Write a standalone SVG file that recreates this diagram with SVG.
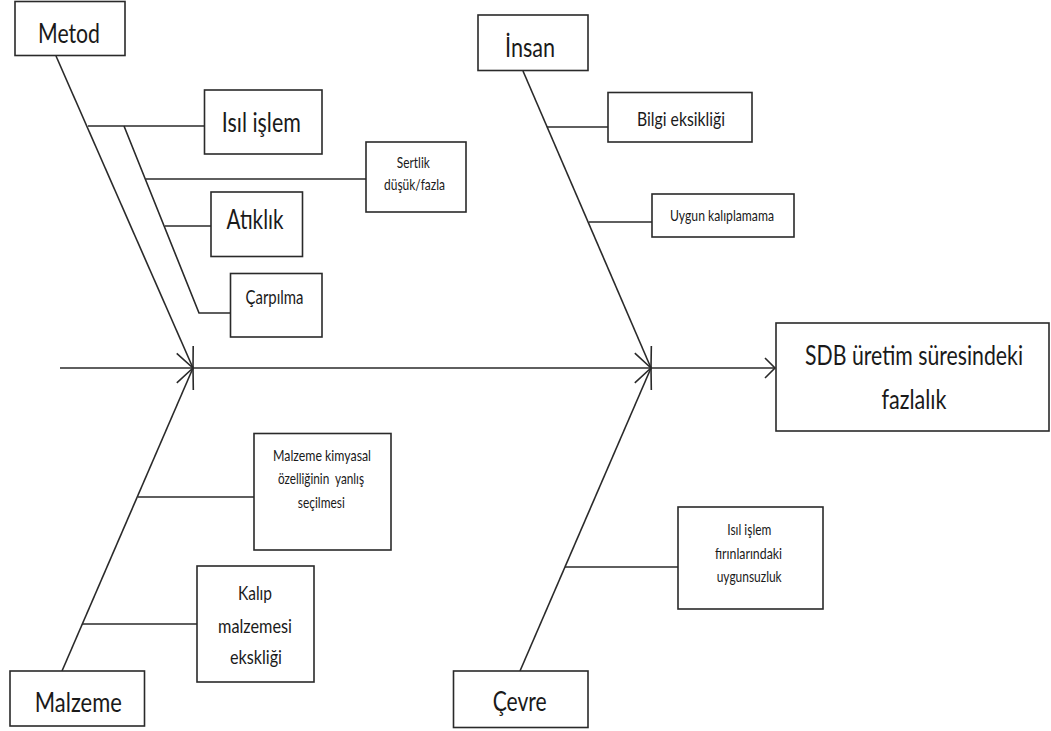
<svg xmlns="http://www.w3.org/2000/svg" width="1051" height="731" viewBox="0 0 1051 731">
<defs>
<style>
.box{fill:#fff;stroke:#2a2a2a;stroke-width:1.6}
.ln{fill:none;stroke:#2a2a2a;stroke-width:1.6}
text{font-family:Lato,"Open Sans","Liberation Sans",sans-serif;fill:#1a1a1a;text-anchor:middle}
.xl{font-size:27px}
.l{font-size:26px}
.m{font-size:19px}
.s{font-size:15px}
</style>
<marker id="spine" markerUnits="userSpaceOnUse" orient="auto" markerWidth="1" markerHeight="1" overflow="visible">
<path d="M-20,-9 L0,0 L-20,9" fill="none" stroke="#2a2a2a" stroke-width="1.6"/>
</marker>
<marker id="head" markerUnits="userSpaceOnUse" orient="auto" markerWidth="1" markerHeight="1" overflow="visible">
<path d="M-10,-10 L0,0 L-10,10" fill="none" stroke="#2a2a2a" stroke-width="1.6"/>
</marker>
</defs>
<rect width="1051" height="731" fill="#fff"/>
<g id="connectors">
<path class="ln" d="M60,368 H775" marker-end="url(#head)"/>
<path class="ln" d="M56,56 L193,368" marker-end="url(#spine)"/>
<path class="ln" d="M62,671 L193,368" marker-end="url(#spine)"/>
<path class="ln" d="M523,71 L651,368" marker-end="url(#spine)"/>
<path class="ln" d="M520,671 L651,368" marker-end="url(#spine)"/>
<path class="ln" d="M88,126 H204.5"/>
<path class="ln" d="M124,126 L199,313 H230.5"/>
<path class="ln" d="M146,179 H366"/>
<path class="ln" d="M165,226 H211"/>
<path class="ln" d="M547,127 H608"/>
<path class="ln" d="M589,222 H652"/>
<path class="ln" d="M138,497 H254"/>
<path class="ln" d="M82,624 H197"/>
<path class="ln" d="M565,567 H678"/>
</g>
<g id="metod">
<rect class="box" x="15" y="1.5" width="110" height="54"/>
<text class="xl" x="69" y="43" textLength="62" lengthAdjust="spacingAndGlyphs">Metod</text>
</g>
<g id="isil-islem">
<rect class="box" x="204.5" y="90" width="117.5" height="64"/>
<text class="xl" x="261.3" y="132" textLength="79" lengthAdjust="spacingAndGlyphs">Isıl işlem</text>
</g>
<g id="sertlik">
<rect class="box" x="366" y="142" width="100" height="70"/>
<text class="s" x="413.3" y="167.7" textLength="33" lengthAdjust="spacingAndGlyphs">Sertlik</text>
<text class="s" x="414.5" y="190" textLength="61" lengthAdjust="spacingAndGlyphs">düşük/fazla</text>
</g>
<g id="atiklik">
<rect class="box" x="211" y="192" width="91.5" height="64.5"/>
<text class="xl" x="255" y="229.3" textLength="57" lengthAdjust="spacingAndGlyphs">Atıklık</text>
</g>
<g id="carpilma">
<rect class="box" x="230.5" y="273.5" width="91.5" height="63.5"/>
<text class="m" x="274.5" y="304" textLength="58" lengthAdjust="spacingAndGlyphs">Çarpılma</text>
</g>
<g id="insan">
<rect class="box" x="478" y="15" width="110" height="55.5"/>
<text class="xl" x="530" y="57" textLength="50" lengthAdjust="spacingAndGlyphs">İnsan</text>
</g>
<g id="bilgi">
<rect class="box" x="608" y="92.5" width="144" height="49.5"/>
<text class="m" x="681" y="125.7" textLength="88" lengthAdjust="spacingAndGlyphs">Bilgi eksikliği</text>
</g>
<g id="uygun">
<rect class="box" x="652" y="194" width="142" height="43"/>
<text class="s" x="722" y="221" textLength="104" lengthAdjust="spacingAndGlyphs">Uygun kalıplamama</text>
</g>
<g id="sdb">
<rect class="box" x="776" y="323" width="273" height="108"/>
<text class="l" x="914" y="365" textLength="218" lengthAdjust="spacingAndGlyphs">SDB üretim süresindeki</text>
<text class="l" x="914" y="409" textLength="65" lengthAdjust="spacingAndGlyphs">fazlalık</text>
</g>
<g id="malzeme">
<rect class="box" x="10" y="671" width="134.5" height="55"/>
<text class="l" x="78.3" y="712" textLength="87" lengthAdjust="spacingAndGlyphs">Malzeme</text>
</g>
<g id="kimyasal">
<rect class="box" x="254" y="433.5" width="137" height="116.5"/>
<text class="s" x="322" y="461" textLength="98" lengthAdjust="spacingAndGlyphs">Malzeme kimyasal</text>
<text class="s" x="321" y="484" textLength="86" lengthAdjust="spacingAndGlyphs" xml:space="preserve">özelliğinin  yanlış</text>
<text class="s" x="321.3" y="507.7" textLength="47" lengthAdjust="spacingAndGlyphs">seçilmesi</text>
</g>
<g id="kalip">
<rect class="box" x="197" y="566" width="117" height="116"/>
<text class="m" x="255" y="600" textLength="34" lengthAdjust="spacingAndGlyphs">Kalıp</text>
<text class="m" x="255" y="632.7" textLength="74" lengthAdjust="spacingAndGlyphs">malzemesi</text>
<text class="m" x="256" y="664" textLength="52" lengthAdjust="spacingAndGlyphs">ekskliği</text>
</g>
<g id="cevre">
<rect class="box" x="453.5" y="671" width="134.5" height="56.5"/>
<text class="l" x="519.7" y="710.7" textLength="54" lengthAdjust="spacingAndGlyphs">Çevre</text>
</g>
<g id="firin">
<rect class="box" x="678" y="507" width="145" height="102"/>
<text class="s" x="749.3" y="535" textLength="44" lengthAdjust="spacingAndGlyphs">Isıl işlem</text>
<text class="s" x="748.5" y="559.3" textLength="67" lengthAdjust="spacingAndGlyphs">fırınlarındaki</text>
<text class="s" x="749.2" y="581.7" textLength="65" lengthAdjust="spacingAndGlyphs">uygunsuzluk</text>
</g>
</svg>
